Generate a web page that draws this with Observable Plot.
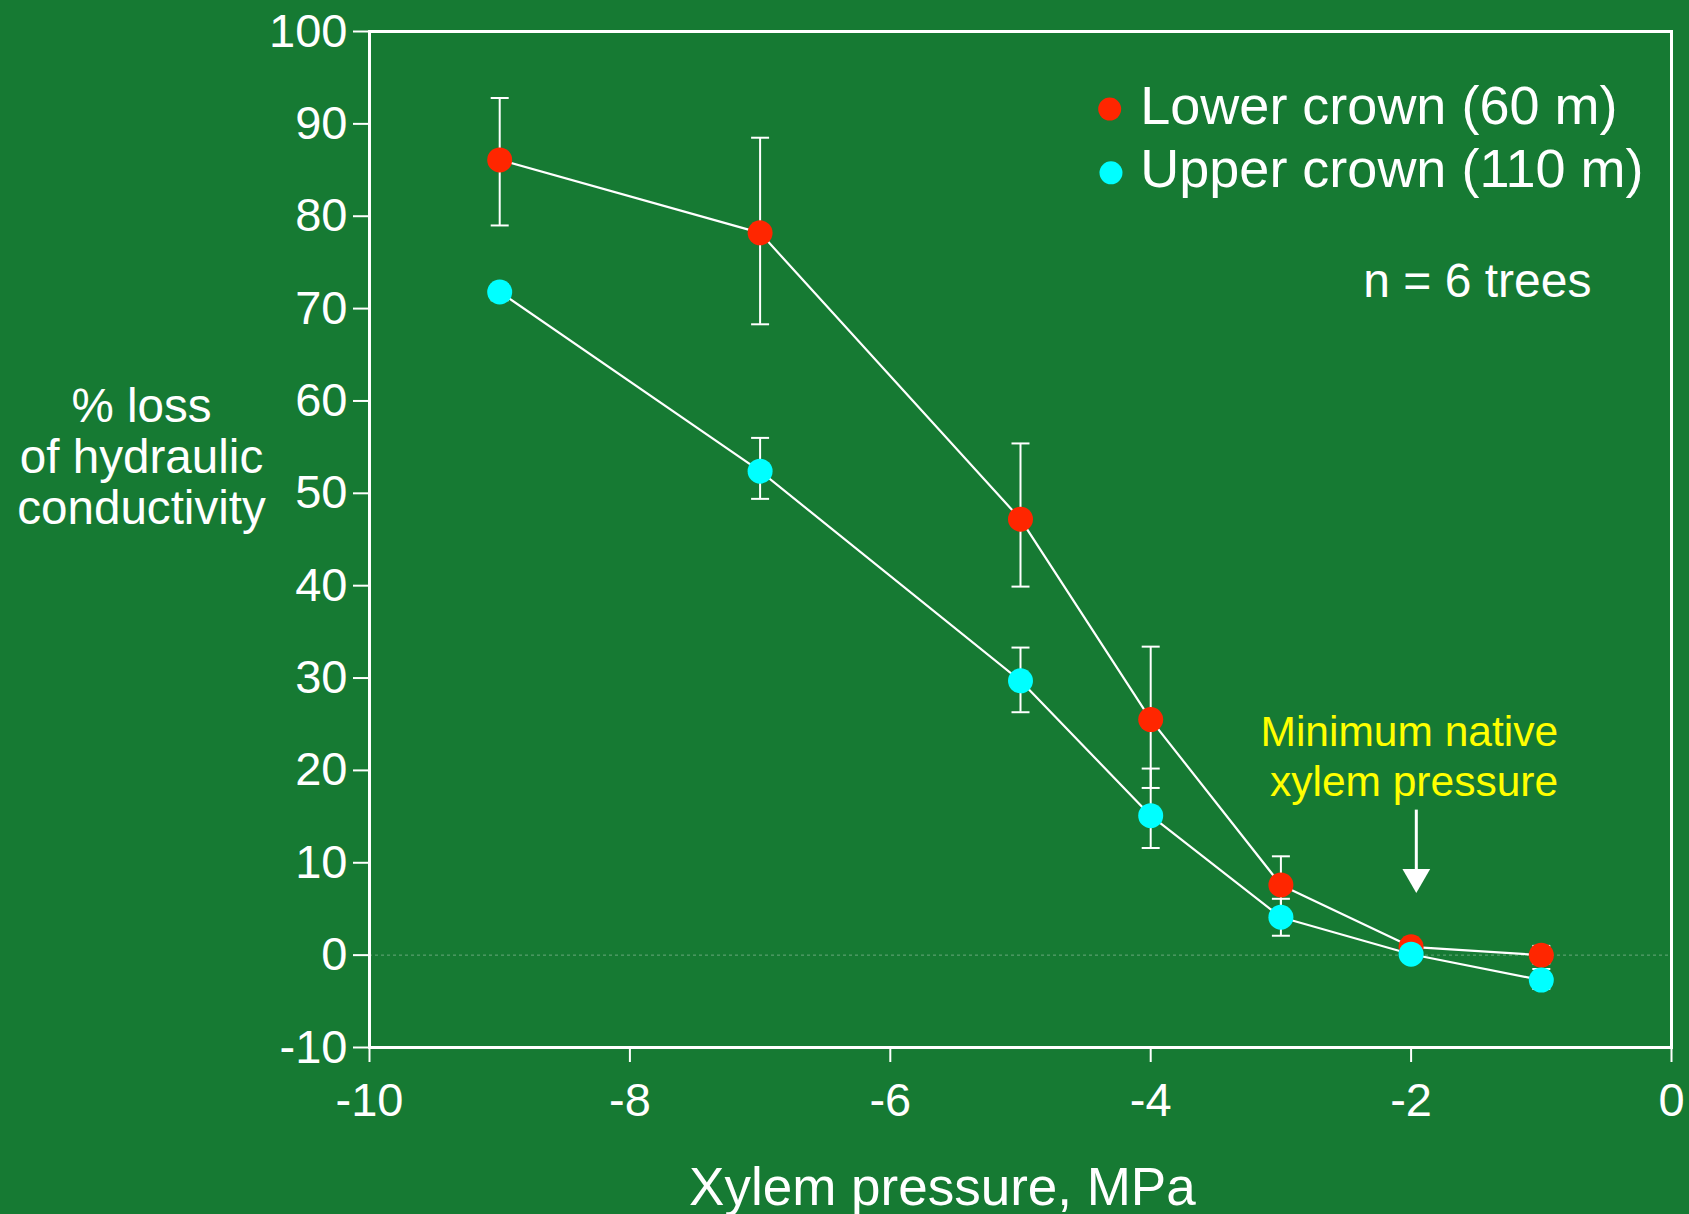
<!DOCTYPE html>
<html>
<head>
<meta charset="utf-8">
<script src="https://cdn.jsdelivr.net/npm/d3@7"></script>
<script src="https://cdn.jsdelivr.net/npm/@observablehq/plot@0.6"></script>
<style>
  html, body { margin: 0; padding: 0; background: #167a33; }
  #chart { width: 1689px; height: 1214px; }
</style>
</head>
<body>
<div id="chart"></div>
<script>
// ---- data ----
const pressure = [-9, -7, -5, -4, -3, -2, -1];
const lowerMean = [86.1, 78.2, 47.2, 25.5, 7.6, 0.9, 0.0];
const lowerHi   = [92.8, 88.5, 55.4, 33.4, 10.7, 1.6, 1.0];
const lowerLo   = [79.0, 68.3, 39.9, 18.1, 4.9, 0.2, -0.9];
const upperMean = [71.8, 52.4, 29.7, 15.1, 4.1, 0.1, -2.7];
const upperHi   = [72.6, 56.0, 33.3, 20.2, 6.1, 0.9, -1.5];
const upperLo   = [70.9, 49.4, 26.3, 11.6, 2.1, -0.6, -3.65];
const seriesNames = ["Lower crown (60 m)", "Upper crown (110 m)"];
const xTicks = [-10, -8, -6, -4, -2, 0];
const yTicks = [-10, 0, 10, 20, 30, 40, 50, 60, 70, 80, 90, 100];
const noteText = "n = 6 trees";
const annotText = "Minimum native\nxylem pressure";
const xTitle = "Xylem pressure, MPa";
const yTitle = "% loss\nof hydraulic\nconductivity";

const RED = "#ff2600", CYAN = "#00ffff", BG = "#167a33";

const lower = pressure.map((p, i) => ({x: p, y: lowerMean[i], lo: lowerLo[i], hi: lowerHi[i]}));
const upper = pressure.map((p, i) => ({x: p, y: upperMean[i], lo: upperLo[i], hi: upperHi[i]}));
const bars = [...lower, ...upper];
const caps = bars.flatMap(d => [{x: d.x, y: d.lo}, {x: d.x, y: d.hi}]);

const capSymbol = {draw(ctx) { ctx.moveTo(-9, 0); ctx.lineTo(9, 0); }};

const chart = Plot.plot({
  width: 1689,
  height: 1214,
  marginLeft: 369,
  marginRight: 18,
  marginTop: 31,
  marginBottom: 167,
  style: {background: BG, color: "white", fontFamily: "'Liberation Sans', Arial, Helvetica, sans-serif"},
  x: {domain: [-10, 0]},
  y: {domain: [-10, 100]},
  marks: [
    Plot.ruleY([0], {stroke: "white", strokeOpacity: 0.35, strokeWidth: 1, strokeDasharray: "3,3"}),
    Plot.axisY({ticks: yTicks, tickSize: 16, tickPadding: 6, fontSize: 47, stroke: "white", strokeWidth: 2, label: null, tickFormat: d => String(d)}),
    Plot.axisX({ticks: xTicks, tickSize: 15, tickPadding: 20, fontSize: 47, stroke: "white", strokeWidth: 2, label: null, tickFormat: d => String(d)}),
    Plot.frame({stroke: "white", strokeWidth: 3}),
    // error bars
    Plot.ruleX(bars, {x: "x", y1: "lo", y2: "hi", stroke: "white", strokeWidth: 2}),
    Plot.dot(caps, {x: "x", y: "y", symbol: capSymbol, stroke: "white", strokeWidth: 2, fill: "none", r: 4}),
    // connecting lines
    Plot.line(lower, {x: "x", y: "y", stroke: "white", strokeWidth: 2.2}),
    Plot.line(upper, {x: "x", y: "y", stroke: "white", strokeWidth: 2.2}),
    // points
    Plot.dot(lower, {x: "x", y: "y", r: 12.5, fill: RED}),
    Plot.dot(upper, {x: "x", y: "y", r: 12.5, fill: CYAN}),
    // legend
    Plot.dot([{x: -4.315, y: 91.6, c: RED}, {x: -4.305, y: 84.7, c: CYAN}], {x: "x", y: "y", r: 11.5, fill: "c"}),
    Plot.text([{x: -4.08, y: 90.0, t: seriesNames[0]}, {x: -4.08, y: 83.15, t: seriesNames[1]}],
      {x: "x", y: "y", text: "t", textAnchor: "start", lineAnchor: "bottom", fontSize: 54, fill: "white"}),
    Plot.text([noteText], {x: -0.615, y: 71.3, textAnchor: "end", lineAnchor: "bottom", fontSize: 48, fill: "white"}),
    // annotation
    Plot.text([annotText], {x: -2, y: 17.2, dx: 147, textAnchor: "end", lineAnchor: "bottom", fontSize: 42.5, lineHeight: 1.19, fill: "#ffff00"}),
    Plot.ruleX([-1.96], {y1: 15.7, y2: 9.2, stroke: "white", strokeWidth: 3}),
    Plot.dot([{x: -1.96, y: 8.45}], {x: "x", y: "y", symbol: "triangle", rotate: 180, r: 10.3, fill: "white"}),
    // axis titles
    Plot.text([xTitle], {x: -5.6, frameAnchor: "bottom", dy: 157, lineAnchor: "bottom", fontSize: 53, fill: "white"}),
    Plot.text([yTitle], {y: 46.7, frameAnchor: "left", dx: -228, lineAnchor: "bottom", fontSize: 47.6, lineHeight: 1.07, textAnchor: "middle", fill: "white"})
  ]
});
document.getElementById("chart").appendChild(chart);
</script>
</body>
</html>
